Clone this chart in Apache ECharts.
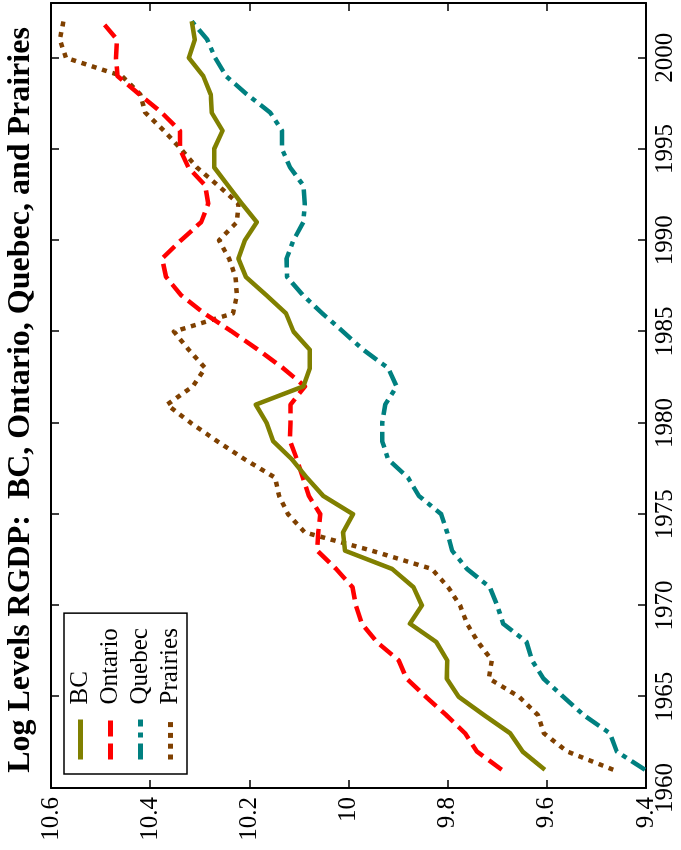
<!DOCTYPE html>
<html>
<head>
<meta charset="utf-8">
<script src="https://cdn.jsdelivr.net/npm/echarts@6/dist/echarts.min.js"></script>
<style>
  html, body { margin: 0; padding: 0; background: #fff; overflow: hidden; }
  body { width: 681px; height: 850px; position: relative; }
  /* The figure is laid out landscape and turned a quarter turn counter-clockwise */
  #chart {
    position: absolute; left: 0; top: 0;
    width: 850px; height: 681px;
    transform-origin: 0 0;
    transform: translate(0, 850px) rotate(-90deg);
  }
</style>
</head>
<body>
<div id="chart"></div>
<script>
// Annual log real GDP levels by region
const years = [1961, 1962, 1963, 1964, 1965, 1966, 1967, 1968, 1969, 1970,
  1971, 1972, 1973, 1974, 1975, 1976, 1977, 1978, 1979, 1980,
  1981, 1982, 1983, 1984, 1985, 1986, 1987, 1988, 1989, 1990,
  1991, 1992, 1993, 1994, 1995, 1996, 1997, 1998, 1999, 2000,
  2001, 2002];

const bc = [9.604, 9.649, 9.674, 9.727, 9.778, 9.802, 9.801, 9.823, 9.876, 9.852,
  9.869, 9.912, 10.007, 10.011, 9.991, 10.051, 10.084, 10.114, 10.152, 10.165,
  10.187, 10.091, 10.078, 10.078, 10.111, 10.126, 10.166, 10.207, 10.222, 10.209,
  10.185, 10.215, 10.243, 10.271, 10.271, 10.254, 10.276, 10.278, 10.293, 10.322,
  10.310, 10.316];

const ontario = [9.691, 9.741, 9.765, 9.803, 9.844, 9.883, 9.899, 9.943, 9.973, 9.985,
  9.992, 10.025, 10.063, 10.061, 10.057, 10.080, 10.092, 10.104, 10.118, 10.117,
  10.117, 10.088, 10.132, 10.182, 10.235, 10.291, 10.338, 10.368, 10.376, 10.338,
  10.297, 10.283, 10.289, 10.323, 10.340, 10.340, 10.377, 10.422, 10.466, 10.469,
  10.467, 10.498];

const quebec = [9.402, 9.459, 9.473, 9.526, 9.567, 9.607, 9.630, 9.641, 9.688, 9.700,
  9.715, 9.761, 9.791, 9.801, 9.813, 9.858, 9.880, 9.920, 9.932, 9.932,
  9.926, 9.903, 9.920, 9.970, 10.011, 10.053, 10.092, 10.124, 10.125, 10.111,
  10.091, 10.088, 10.091, 10.118, 10.134, 10.134, 10.158, 10.205, 10.247, 10.269,
  10.285, 10.316];

const prairies = [9.466, 9.559, 9.606, 9.618, 9.656, 9.717, 9.711, 9.739, 9.761, 9.775,
  9.799, 9.832, 9.953, 10.088, 10.122, 10.140, 10.148, 10.209, 10.265, 10.318,
  10.366, 10.314, 10.289, 10.322, 10.352, 10.233, 10.225, 10.228, 10.241, 10.261,
  10.225, 10.222, 10.263, 10.306, 10.338, 10.372, 10.410, 10.420, 10.457, 10.570,
  10.582, 10.575];

const seriesNames = ['BC', 'Ontario', 'Quebec', 'Prairies'];

const FONT = '"Liberation Serif", "Times New Roman", serif';

function pairs(vals) {
  return years.map((y, i) => [y, vals[i]]);
}

const frameAxis = {
  axisLine: { show: true, onZero: false, lineStyle: { color: '#000', width: 2 } },
  axisTick: { show: true, inside: true, length: 8, lineStyle: { color: '#000', width: 1.5 } },
  splitLine: { show: false }
};

const chart = echarts.init(document.getElementById('chart'), null, { renderer: 'canvas' });

chart.setOption({
  animation: false,
  backgroundColor: '#fff',
  title: {
    text: 'Log Levels RGDP:  BC, Ontario, Quebec, and Prairies',
    left: 450,
    textAlign: 'center',
    top: 5,
    padding: 0,
    textStyle: { fontFamily: FONT, fontSize: 32, fontWeight: 'bold', color: '#000' }
  },
  grid: { left: 62, right: 3, top: 51, bottom: 35, containLabel: false },
  legend: {
    orient: 'vertical',
    left: 76,
    top: 64,
    padding: [4, 15, 4, 12],
    itemWidth: 40,
    itemHeight: 25,
    itemGap: 5,
    borderColor: '#000',
    borderWidth: 1.5,
    backgroundColor: '#fff',
    itemStyle: { opacity: 0 },
    lineStyle: { width: 5 },
    textStyle: { fontFamily: FONT, fontSize: 25, color: '#000', padding: [0, 0, 0, 10] },
    data: seriesNames
  },
  xAxis: [
    Object.assign({}, frameAxis, {
      type: 'value', position: 'bottom', min: 1960, max: 2003, interval: 5,
      axisLabel: {
        fontFamily: FONT, fontSize: 25, color: '#000', margin: 7, showMaxLabel: false,
        formatter: (v) => String(v)
      }
    }),
    Object.assign({}, frameAxis, {
      type: 'value', position: 'top', min: 1960, max: 2003, interval: 5,
      axisLabel: { show: false }
    })
  ],
  yAxis: [
    Object.assign({}, frameAxis, {
      type: 'value', position: 'left', min: 9.4, max: 10.6, interval: 0.2,
      axisLabel: { fontFamily: FONT, fontSize: 25, color: '#000', margin: 9 }
    }),
    Object.assign({}, frameAxis, {
      type: 'value', position: 'right', min: 9.4, max: 10.6, interval: 0.2,
      axisLabel: { show: false }
    })
  ],
  series: [
    {
      name: 'BC', type: 'line', data: pairs(bc), symbol: 'none', z: 4,
      itemStyle: { color: '#808000' },
      lineStyle: { color: '#808000', width: 4.5, type: 'solid', join: 'round' }
    },
    {
      name: 'Ontario', type: 'line', data: pairs(ontario), symbol: 'none', z: 3,
      itemStyle: { color: '#ff0000' },
      lineStyle: { color: '#ff0000', width: 4.5, type: [16, 7], cap: 'butt', join: 'round' }
    },
    {
      name: 'Quebec', type: 'line', data: pairs(quebec), symbol: 'none', z: 2,
      itemStyle: { color: '#008080' },
      lineStyle: { color: '#008080', width: 4.5, type: [16, 6, 5, 6], cap: 'butt', join: 'round' }
    },
    {
      name: 'Prairies', type: 'line', data: pairs(prairies), symbol: 'none', z: 1,
      itemStyle: { color: '#7f4000' },
      lineStyle: { color: '#7f4000', width: 4.5, type: [5, 5.8], cap: 'butt', join: 'round' }
    }
  ]
});
</script>
</body>
</html>
